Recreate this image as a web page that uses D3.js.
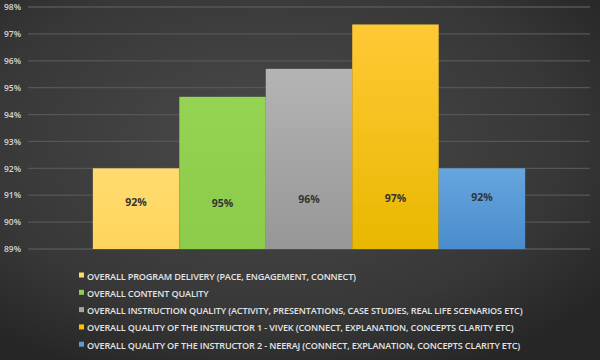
<!DOCTYPE html>
<html>
<head>
<meta charset="utf-8">
<script src="https://cdn.jsdelivr.net/npm/d3@7"></script>
<style>
  body { margin: 0; background: #333; }
  svg { display: block; }
</style>
</head>
<body>
<script>
// data
var seriesNames = [
    "OVERALL PROGRAM DELIVERY (PACE, ENGAGEMENT, CONNECT)",
    "OVERALL CONTENT QUALITY",
    "OVERALL INSTRUCTION QUALITY (ACTIVITY, PRESENTATIONS, CASE STUDIES, REAL LIFE SCENARIOS ETC)",
    "OVERALL QUALITY OF THE INSTRUCTOR 1 - VIVEK (CONNECT, EXPLANATION, CONCEPTS CLARITY ETC)",
    "OVERALL QUALITY OF THE INSTRUCTOR 2 - NEERAJ (CONNECT, EXPLANATION, CONCEPTS CLARITY ETC)"
];
var values = [92.0, 94.66, 95.7, 97.35, 92.0];
var valueLabels = ["92%", "95%", "96%", "97%", "92%"];
var yTicks = [89, 90, 91, 92, 93, 94, 95, 96, 97, 98];
var colors = ["#ffd966", "#92d050", "#a5a5a5", "#ffc000", "#5b9bd5"];

var width = 600, height = 360;
var margin = { left: 28, right: 10, top: 7, bottom: 111 };

var svg = d3.select("body").append("svg")
    .attr("width", width)
    .attr("height", height);

var defs = svg.append("defs");

// background
var bg = defs.append("radialGradient").attr("id", "bg")
    .attr("cx", "45%").attr("cy", "40%").attr("r", "70%");
bg.append("stop").attr("offset", "0%").attr("stop-color", "#4b4b4b");
bg.append("stop").attr("offset", "70%").attr("stop-color", "#373737");
bg.append("stop").attr("offset", "100%").attr("stop-color", "#262626");
svg.append("rect").attr("width", width).attr("height", height).attr("fill", "url(#bg)");

// gradients for the bars
var grads = [
    ["#ffdc70", "#ffd45c"],
    ["#95d352", "#8ccc4a"],
    ["#b4b4b4", "#979797"],
    ["#ffc936", "#e8b800"],
    ["#66a5de", "#4a8ccc"]
];
grads.forEach(function (g, i) {
    var lg = defs.append("linearGradient").attr("id", "g" + i)
        .attr("x1", 0).attr("y1", 0).attr("x2", 0).attr("y2", 1);
    lg.append("stop").attr("offset", "0%").attr("stop-color", g[0]);
    lg.append("stop").attr("offset", "100%").attr("stop-color", g[1]);
});

var y = d3.scaleLinear()
    .domain([89, 98])
    .range([height - margin.bottom, margin.top]);

var x = d3.scaleBand()
    .domain(seriesNames)
    .range([margin.left, width - margin.right])
    .paddingInner(0)
    .paddingOuter(0.75);

// grid lines
svg.append("g")
    .selectAll("line")
    .data(yTicks)
    .enter()
    .append("line")
    .attr("x1", margin.left)
    .attr("x2", width - margin.right)
    .attr("y1", function (d) { return y(d); })
    .attr("y2", function (d) { return y(d); })
    .attr("stroke", "#565656")
    .attr("stroke-width", 1.3);

// y axis labels
var yAxis = d3.axisLeft(y)
    .tickValues(yTicks)
    .tickSize(0)
    .tickPadding(0)
    .tickFormat(function (d) { return d + "%"; });

var ya = svg.append("g")
    .attr("transform", "translate(21,0)")
    .call(yAxis);
ya.select(".domain").remove();
ya.selectAll("text")
    .attr("fill", "#d4d4d4")
    .style("font-family", "'Open Sans', sans-serif")
    .style("font-size", "8.5px")
    .style("font-weight", "600");

// bars
svg.append("g")
    .selectAll("rect")
    .data(values)
    .enter()
    .append("rect")
    .attr("x", function (d, i) { return x(seriesNames[i]); })
    .attr("y", function (d) { return y(d); })
    .attr("width", x.bandwidth())
    .attr("height", function (d) { return y(89) - y(d); })
    .attr("fill", function (d, i) { return "url(#g" + i + ")"; });

// value labels
svg.append("g")
    .selectAll("text")
    .data(valueLabels)
    .enter()
    .append("text")
    .attr("x", function (d, i) { return x(seriesNames[i]) + x.bandwidth() / 2; })
    .attr("y", function (d, i) { return y(90.7) + [3, 4, 0, -1, -2][i]; })
    .attr("text-anchor", "middle")
    .attr("fill", "#333")
    .style("font-family", "'Open Sans', sans-serif")
    .style("font-size", "10.5px")
    .style("font-weight", "bold")
    .text(function (d) { return d; });

// legend
var legend = svg.append("g")
    .selectAll("g")
    .data(seriesNames)
    .enter()
    .append("g")
    .attr("transform", function (d, i) { return "translate(79," + (276 + i * 17.3) + ")"; });

legend.append("rect")
    .attr("x", 0)
    .attr("y", -3.5)
    .attr("width", 5)
    .attr("height", 5)
    .attr("fill", function (d, i) { return colors[i]; });

legend.append("text")
    .attr("x", 8)
    .attr("y", 3.5)
    .attr("fill", "#e4e4e4")
    .style("font-family", "'Open Sans', sans-serif")
    .style("font-size", "9.1px")
    .style("font-weight", "600")
    .style("letter-spacing", "-0.15px")
    .text(function (d) { return d; });
</script>
</body>
</html>
